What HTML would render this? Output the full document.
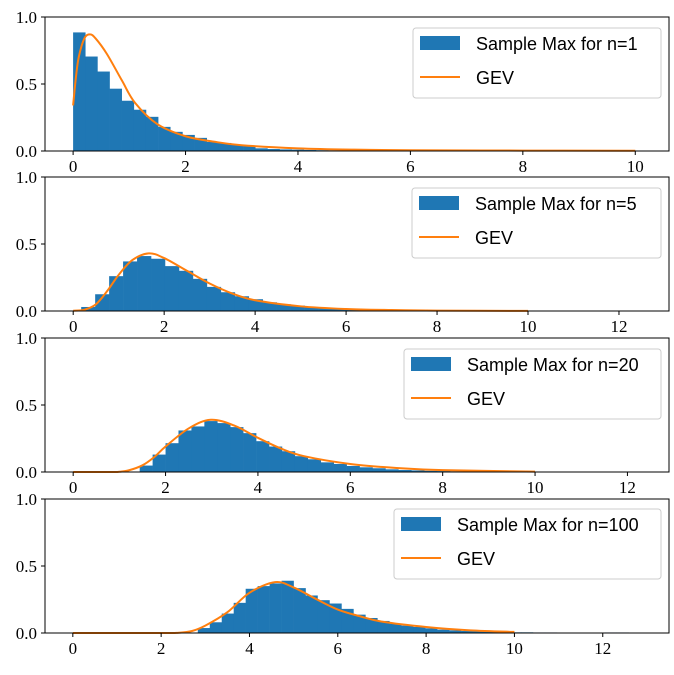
<!DOCTYPE html>
<html><head><meta charset="utf-8"><style>
body{margin:0;background:#fff;}
svg text{font-family:"Liberation Serif",serif;}
.lg{font-family:"Liberation Sans",sans-serif;font-size:18px;}
</style></head><body>
<svg id="chart" width="674" height="670" xmlns="http://www.w3.org/2000/svg"></svg>
<script>
// Panel 1 (n=1)
const hist1Start = 0, hist1Width = 0.216;
const hist1Values = [0.885,0.705,0.593,0.465,0.375,0.308,0.255,0.18,0.143,0.12,0.098,0.068,0.06,0.045,0.04,0.02,0.015,0.012,0.01,0.008,0.006,0.005,0.004,0.003,0.003,0.002,0.002,0.002,0.001,0.001,0.001,0.001,0.001,0.001,0.001,0.001,0.001,0.001,0.001,0.001,0.001,0.001,0.001,0.001,0.001,0.001];
const gev1X = [0,0.05,0.1,0.2,0.3,0.4,0.6,0.87,1.1,1.5,2,2.5,3,4,5,6,8,10];
const gev1Y = [0.34,0.55,0.7,0.84,0.87,0.84,0.725,0.525,0.36,0.2,0.11,0.07,0.043,0.02,0.01,0.006,0.003,0.002];
// Panel 2 (n=5)
const hist2Start = 0.176, hist2Width = 0.307;
const hist2Values = [0.03,0.125,0.26,0.37,0.41,0.39,0.335,0.30,0.24,0.18,0.14,0.11,0.088,0.065,0.05,0.04,0.03,0.022,0.016,0.012,0.009,0.007,0.005,0.004,0.003,0.003,0.002,0.002,0.001,0.001,0.001,0.001,0.001,0.001,0.001,0.001,0.001,0.001,0.001,0.001];
const gev2X = [0,0.25,0.5,0.75,1,1.3,1.66,2,2.5,3,3.5,4,5,6,7,8,10];
const gev2Y = [0.002,0.01,0.05,0.15,0.27,0.38,0.43,0.395,0.3,0.205,0.13,0.08,0.035,0.015,0.007,0.003,0.001];
// Panel 3 (n=20)
const hist3Start = 1.44, hist3Width = 0.28;
const hist3Values = [0.048,0.13,0.215,0.31,0.34,0.38,0.365,0.335,0.29,0.23,0.19,0.155,0.118,0.095,0.072,0.06,0.045,0.035,0.028,0.02,0.015,0.012,0.009,0.007,0.005,0.004,0.003,0.003,0.002,0.002,0.001,0.001,0.001,0.001,0.001,0.001,0.001,0.001,0.001];
const gev3X = [0,0.8,1,1.2,1.5,1.75,2,2.5,2.98,3.5,4,4.5,5,6,7,8,10];
const gev3Y = [0,0,0.002,0.012,0.05,0.11,0.19,0.325,0.39,0.345,0.255,0.175,0.118,0.06,0.03,0.014,0.003];
// Panel 4 (n=100)
const hist4Start = 2.83, hist4Width = 0.271;
const hist4Values = [0.037,0.08,0.145,0.225,0.33,0.35,0.37,0.39,0.335,0.28,0.245,0.22,0.18,0.137,0.112,0.09,0.07,0.055,0.045,0.035,0.025,0.02,0.015,0.012,0.009,0.007,0.005,0.005,0.004,0.004,0.003,0,0,0,0.004,0.004,0];
const gev4X = [0,2,2.4,2.7,3,3.5,4,4.58,5,5.5,6,6.5,7,8,9,10];
const gev4Y = [0,0,0.002,0.015,0.055,0.155,0.30,0.38,0.34,0.255,0.175,0.125,0.085,0.045,0.02,0.008];
const legendLabels = ["Sample Max for n=1","Sample Max for n=5","Sample Max for n=20","Sample Max for n=100"];
const yTicks = [0,0.5,1];
const yTickLabels = ["0.0","0.5","1.0"];
const xTicks1 = [0,2,4,6,8,10];
const xTicksN = [0,2,4,6,8,10,12];

const NS="http://www.w3.org/2000/svg";
const svg=document.getElementById('chart');
function mk(tag,attrs,parent){const e=document.createElementNS(NS,tag);for(const k in attrs)e.setAttribute(k,attrs[k]);(parent||svg).appendChild(e);return e;}
function smoothPath(P){
 let d='M'+P[0][0]+','+P[0][1];
 for(let i=0;i<P.length-1;i++){
  const p0=P[i-1]||P[i],p1=P[i],p2=P[i+1],p3=P[i+2]||p2;
  const c1=[p1[0]+(p2[0]-p0[0])/6,p1[1]+(p2[1]-p0[1])/6];
  const c2=[p2[0]-(p3[0]-p1[0])/6,p2[1]-(p3[1]-p1[1])/6];
  d+=' C'+c1+' '+c2+' '+p2;
 }
 return d;
}
const panels=[
 {top:17,xmin:-0.5,xmax:10.6,hs:hist1Start,hw:hist1Width,hv:hist1Values,gx:gev1X,gy:gev1Y,ticks:xTicks1,leg:[413,28]},
 {top:177,xmin:-0.62,xmax:13.1,hs:hist2Start,hw:hist2Width,hv:hist2Values,gx:gev2X,gy:gev2Y,ticks:xTicksN,leg:[412,188]},
 {top:338,xmin:-0.61,xmax:12.9,hs:hist3Start,hw:hist3Width,hv:hist3Values,gx:gev3X,gy:gev3Y,ticks:xTicksN,leg:[404,349]},
 {top:499,xmin:-0.63,xmax:13.5,hs:hist4Start,hw:hist4Width,hv:hist4Values,gx:gev4X,gy:gev4Y,ticks:xTicksN,leg:[394,509]}
];
const L=45,R=669,H=134;
panels.forEach((p,i)=>{
 const g=mk('g',{});
 
 
 const xs=v=>L+(v-p.xmin)/(p.xmax-p.xmin)*(R-L);
 const ys=v=>p.top+H-v*H;
 p.hv.forEach((v,j)=>{
  if(v<=0)return;
  const x0=xs(p.hs+j*p.hw),x1=xs(p.hs+(j+1)*p.hw);
  const r=mk('rect',{x:x0,y:ys(v),width:x1-x0+0.3,height:v*H,fill:'#1f77b4'},g);
  
  
 });
 const P=p.gx.map((x,j)=>[xs(x),ys(p.gy[j])]);
 const pl=mk('path',{d:smoothPath(P),fill:'none',stroke:'#ff7f0e','stroke-width':2,'stroke-linejoin':'round'},g);
 
 
 const fr=mk('rect',{x:L,y:p.top,width:R-L,height:H,fill:'none',stroke:'#000','stroke-width':1},g);
 
 
 yTicks.forEach((t,j)=>{
  mk('line',{x1:L-4,x2:L,y1:ys(t),y2:ys(t),stroke:'#000'},g);
  const tx=mk('text',{x:L-8,y:ys(t)+6,'text-anchor':'end','font-size':17},g);
  tx.textContent=yTickLabels[j];
  
  
 });
 p.ticks.forEach(t=>{
  mk('line',{x1:xs(t),x2:xs(t),y1:p.top+H,y2:p.top+H+4,stroke:'#000'},g);
  const tx=mk('text',{x:xs(t),y:p.top+H+21,'text-anchor':'middle','font-size':17},g);
  tx.textContent=t;
  
  
 });
 const [lx,ly]=p.leg;
 const lg=mk('g',{},g);
 
 
 mk('rect',{x:lx,y:ly,width:661-lx,height:70,rx:3,fill:'#fff','fill-opacity':0.8,stroke:'#ccc'},lg);
 mk('rect',{x:lx+7,y:ly+8,width:40,height:14,fill:'#1f77b4'},lg);
 const t1=mk('text',{x:lx+63,y:ly+22,class:'lg'},lg);
 t1.textContent=legendLabels[i];
 
 
 mk('line',{x1:lx+7,x2:lx+47,y1:ly+49,y2:ly+49,stroke:'#ff7f0e','stroke-width':2},lg);
 const t2=mk('text',{x:lx+63,y:ly+56,class:'lg'},lg);
 t2.textContent='GEV';
 
 
});
</script>
</body></html>
